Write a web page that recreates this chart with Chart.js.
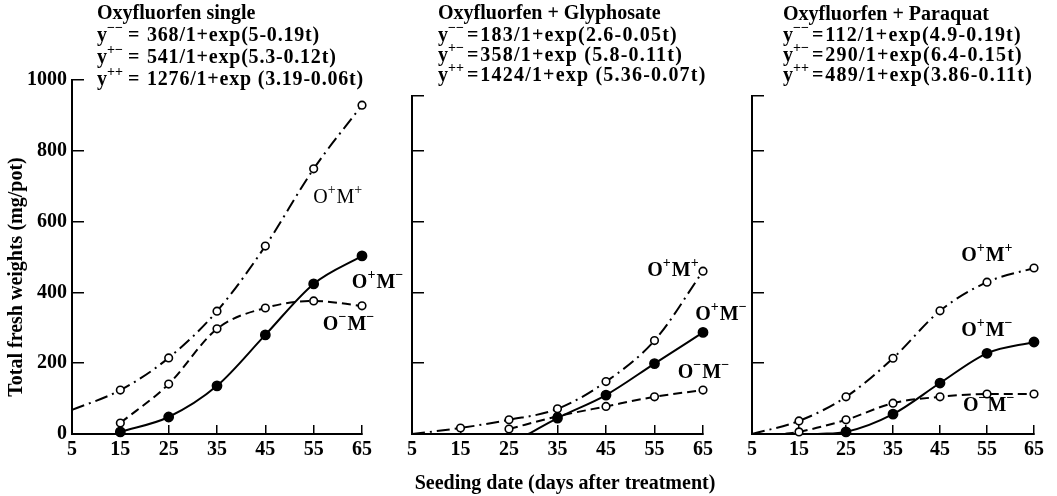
<!DOCTYPE html>
<html>
<head>
<meta charset="utf-8">
<script src="https://cdn.jsdelivr.net/npm/chart.js@4.4.1/dist/chart.umd.min.js"></script>
<style>
  html, body { margin: 0; padding: 0; background: #fff; }
  #wrap { position: relative; width: 1057px; height: 496px; overflow: hidden; background: #fff; }
  canvas { position: absolute; top: 0; }
</style>
</head>
<body>
<div id="wrap">
  <canvas id="c1" width="420" height="496" style="left:0px"></canvas>
  <canvas id="c2" width="380" height="496" style="left:380px"></canvas>
  <canvas id="c3" width="337" height="496" style="left:720px"></canvas>
</div>
<script>
// axis ticks
const xTicks = [5, 15, 25, 35, 45, 55, 65];
const yTicks = [0, 200, 400, 600, 800, 1000];
const seedDays = [15, 25, 35, 45, 55, 65]; // days that carry a marker

const titles = ["Oxyfluorfen single", "Oxyfluorfen + Glyphosate", "Oxyfluorfen + Paraquat"];
const eqSigns = ["\u2212\u2212", "+\u2212", "++"];
const eqSingle = ["368/1+exp(5-0.19t)", "541/1+exp(5.3-0.12t)", "1276/1+exp (3.19-0.06t)"];
const eqGly = ["183/1+exp(2.6-0.05t)", "358/1+exp (5.8-0.11t)", "1424/1+exp (5.36-0.07t)"];
const eqPara = ["112/1+exp(4.9-0.19t)", "290/1+exp(6.4-0.15t)", "489/1+exp(3.86-0.11t)"];

// Oxyfluorfen single
const singlePPDays = [5, 15, 25, 35, 45, 55, 65];
const singlePP = [68, 124, 215, 347, 531, 749, 929];
const singlePMDays = [15, 25, 35, 45, 55, 65];
const singlePM = [6, 48, 136, 280, 424, 503];
const singleMMDays = [15, 25, 35, 45, 55, 65];
const singleMM = [31, 141, 297, 356, 376, 362];

// Oxyfluorfen + Glyphosate
const glyPPDays = [5, 15, 25, 35, 45, 55, 65];
const glyPP = [0, 17, 40, 71, 148, 264, 460];
const glyPMDays = [29, 35, 45, 55, 65];
const glyPM = [0, 45, 110, 199, 287];
const glyMMDays = [25, 35, 45, 55, 65];
const glyMM = [14, 50, 78, 105, 124];

// Oxyfluorfen + Paraquat
const paraPPDays = [5, 15, 25, 35, 45, 55, 65];
const paraPP = [0, 37, 105, 214, 348, 429, 469];
const paraPMDays = [19, 25, 35, 45, 55, 65];
const paraPM = [0, 6, 56, 144, 228, 260];
const paraMMDays = [12, 15, 25, 35, 45, 55, 65];
const paraMM = [0, 6, 40, 87, 105, 113, 113];

const serif = '"Liberation Serif", "Times New Roman", serif';
const MINUS = "\u2212";

// draws text pieces, superscript pieces smaller and raised
function drawRich(ctx, x, y, parts, size, weight, supSize) {
  ctx.textAlign = "left";
  ctx.textBaseline = "middle";
  parts.forEach(([txt, sup]) => {
    ctx.font = weight + " " + (sup ? supSize : size) + "px " + serif;
    ctx.fillText(txt, x, sup ? y - size * 0.38 : y);
    x += ctx.measureText(txt).width + (sup ? 1 : 0);
  });
  return x;
}

const textPlugin = {
  id: "panelText",
  afterDraw(chart, args, opts) {
    const ctx = chart.ctx;
    const area = chart.chartArea;
    const sx = chart.scales.x, sy = chart.scales.y;
    ctx.save();
    ctx.fillStyle = "#000";
    const hx = area.left + opts.hx;
    // heading and equations
    ctx.font = "bold 20px " + serif;
    ctx.textBaseline = "middle";
    ctx.textAlign = "left";
    ctx.fillText(opts.title, hx, opts.hy[0]);
    opts.eqs.forEach((eq, i) => {
      const y = opts.hy[i + 1];
      const cx = drawRich(ctx, hx, y, [["y", 0], [eqSigns[i], 1]], 20, "bold", 14);
      ctx.font = "bold 20px " + serif;
      const eqX = Math.max(hx + opts.eqAt, cx + 2);
      ctx.fillText("=", eqX, y);
      const vx = Math.max(hx + opts.valAt, eqX + ctx.measureText("=").width + 2);
      ctx.letterSpacing = opts.spacing;
      ctx.fillText(eq, vx, y);
      ctx.letterSpacing = "0px";
    });
    // series labels
    opts.labels.forEach(l => {
      drawRich(ctx, sx.getPixelForValue(l.x), sy.getPixelForValue(l.y), l.parts, 20, l.weight || "bold", 14);
    });
    // axis titles
    if (opts.yTitle) {
      ctx.save();
      ctx.translate(opts.yTitle.x, opts.yTitle.y);
      ctx.rotate(-Math.PI / 2);
      ctx.font = "bold 20px " + serif;
      ctx.textAlign = "center";
      ctx.fillText(opts.yTitle.text, 0, 0);
      ctx.restore();
    }
    if (opts.xTitle) {
      ctx.font = "bold 20px " + serif;
      ctx.textAlign = "center";
      ctx.fillText(opts.xTitle.text, opts.xTitle.x, opts.xTitle.y);
    }
    ctx.restore();
  }
};

const tickFont = { family: serif, size: 20, weight: "bold" };

function makePanel(id, p) {
  const series = [
    { days: p.ppDays, vals: p.pp, dash: [13, 5, 2, 5], fill: "#fff", r: 3.8 },
    { days: p.pmDays, vals: p.pm, dash: [], fill: "#000", r: 4.6 },
    { days: p.mmDays, vals: p.mm, dash: [9, 5], fill: "#fff", r: 3.8 }
  ];
  return new Chart(document.getElementById(id), {
    type: "line",
    data: {
      datasets: series.map(s => ({
        data: s.days.map((d, i) => ({ x: d, y: s.vals[i] })),
        borderColor: "#000",
        borderWidth: 2,
        borderDash: s.dash,
        cubicInterpolationMode: "monotone",
        pointRadius: ctx => (ctx.raw && seedDays.includes(ctx.raw.x) ? s.r : 0),
        pointBackgroundColor: s.fill,
        pointBorderColor: "#000",
        pointBorderWidth: 1.6,
        clip: false
      }))
    },
    options: {
      responsive: false,
      animation: false,
      events: [],
      layout: { padding: { top: p.top, right: p.right, left: 0, bottom: 0 } },
      plugins: {
        legend: { display: false },
        tooltip: { enabled: false },
        panelText: p.text
      },
      scales: {
        x: {
          type: "linear",
          min: 5,
          max: 65,
          afterFit: s => { s.height = 62; },
          afterBuildTicks: s => { s.ticks = xTicks.map(v => ({ value: v })); },
          grid: { drawOnChartArea: false, tickLength: -9, color: "#000", lineWidth: 1.5 },
          border: { color: "#000", width: 2 },
          ticks: { padding: 13, color: "#000", font: tickFont, maxRotation: 0, autoSkip: false }
        },
        y: {
          type: "linear",
          min: 0,
          max: p.yMax,
          afterFit: s => { s.width = p.left; },
          afterBuildTicks: s => {
            const t = yTicks.filter(v => v <= p.yMax);
            if (t[t.length - 1] !== p.yMax) t.push(p.yMax);
            s.ticks = t.map(v => ({ value: v }));
          },
          grid: { drawOnChartArea: false, tickLength: -12, color: "#000", lineWidth: 1.5 },
          border: { color: "#000", width: 2 },
          ticks: {
            padding: 17,
            color: "#000",
            font: tickFont,
            autoSkip: false,
            callback: v => (p.showY ? String(v) : "")
          }
        }
      }
    },
    plugins: [textPlugin]
  });
}

const lab = (a, b) => [["O", 0], [a, 1], ["M", 0], [b, 1]];

makePanel("c1", {
  ppDays: singlePPDays, pp: singlePP, pmDays: singlePMDays, pm: singlePM, mmDays: singleMMDays, mm: singleMM,
  yMax: 1000, top: 80, right: 58, left: 72, showY: true,
  text: {
    title: titles[0], eqs: eqSingle, hx: 25, hy: [14, 36, 58, 80], eqAt: 31, valAt: 50, spacing: "0.8px",
    labels: [
      { x: 54.9, y: 667, parts: lab("+", "+"), weight: "normal" },
      { x: 62.9, y: 427, parts: lab("+", MINUS) },
      { x: 56.9, y: 308, parts: lab(MINUS, MINUS) }
    ],
    yTitle: { text: "Total fresh weights (mg/pot)", x: 17, y: 277 }
  }
});

makePanel("c2", {
  ppDays: glyPPDays, pp: glyPP, pmDays: glyPMDays, pm: glyPM, mmDays: glyMMDays, mm: glyMM,
  yMax: 955, top: 96, right: 57, left: 32, showY: false,
  text: {
    title: titles[1], eqs: eqGly, hx: 26, hy: [14, 36, 56, 76], eqAt: 0, valAt: 0, spacing: "1.2px",
    labels: [
      { x: 53.5, y: 460, parts: lab("+", "+") },
      { x: 63.4, y: 336, parts: lab("+", MINUS) },
      { x: 59.8, y: 172, parts: lab(MINUS, MINUS) }
    ],
    xTitle: { text: "Seeding date (days after treatment)", x: 185, y: 484 }
  }
});

makePanel("c3", {
  ppDays: paraPPDays, pp: paraPP, pmDays: paraPMDays, pm: paraPM, mmDays: paraMMDays, mm: paraMM,
  yMax: 955, top: 96, right: 14, left: 32, showY: false,
  text: {
    title: titles[2], eqs: eqPara, hx: 31, hy: [15, 36, 56, 76], eqAt: 0, valAt: 0, spacing: "1.2px",
    labels: [
      { x: 49.5, y: 503, parts: lab("+", "+") },
      { x: 49.5, y: 291, parts: lab("+", MINUS) },
      { x: 49.9, y: 80, parts: lab(MINUS, MINUS) }
    ]
  }
});
</script>
</body>
</html>
